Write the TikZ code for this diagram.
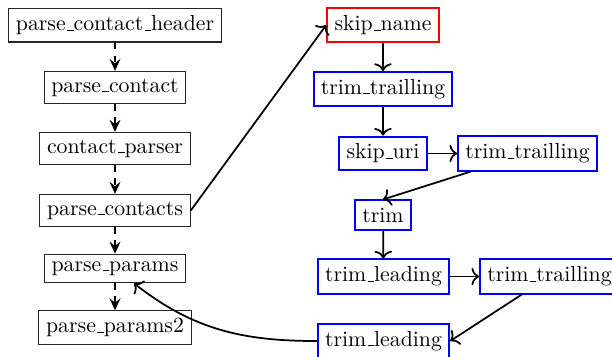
\documentclass[tikz,border=0pt]{standalone}
\usetikzlibrary{arrows.meta}
\newcommand\usc{\leavevmode\kern.06em\vbox{\hrule width.3em}}
\begin{document}
\begin{tikzpicture}[x=0.4587pt,y=-0.4587pt,
  lbox/.style={draw,rectangle,line width=0.5pt,draw=black!85},
  bbox/.style={draw=blue,rectangle,line width=0.9pt},
  rbox/.style={draw=red,rectangle,line width=0.9pt},
  dedge/.style={dashed,thick,-{Stealth[length=5.5pt,width=5pt,inset=2pt]}},
  sedge/.style={thick,-{To[length=3.5pt,width=8pt]}}]
\useasboundingbox (0,0) rectangle (612,356);
\node[lbox] (pch) at (115,25) {parse\usc contact\usc header};
\node[lbox] (pc) at (115,87.5) {parse\usc contact};
\node[lbox] (cp) at (115,148.5) {contact\usc parser};
\node[lbox] (pcs) at (115,210.5) {parse\usc contacts};
\node[lbox] (pp) at (115,268.5) {parse\usc params};
\node[lbox] (pp2) at (115,327.5) {parse\usc params2};
\node[rbox] (sn) at (383,25) {skip\usc name};
\node[bbox] (tt1) at (383,89) {trim\usc trailling};
\node[bbox] (su) at (383,153.5) {skip\usc uri};
\node[bbox] (tt2) at (527.5,153.5) {trim\usc trailling};
\node[bbox] (tr) at (383,215) {trim};
\node[bbox] (tl1) at (383.5,276.5) {trim\usc leading};
\node[bbox] (tt3) at (549.5,276.5) {trim\usc trailling};
\node[bbox] (tl2) at (383.5,341) {trim\usc leading};
\draw[dedge] (pch) -- (pc);
\draw[dedge] (pc) -- (cp);
\draw[dedge] (cp) -- (pcs);
\draw[dedge] (pcs) -- (pp);
\draw[dedge] (pp) -- (pp2);
\draw[sedge] (pcs.east) -- (sn.west);
\draw[sedge] (sn) -- (tt1);
\draw[sedge] (tt1) -- (su);
\draw[sedge] (su) -- (tt2);
\draw[sedge] (tt2) -- (tr.north);
\draw[sedge] (tr) -- (tl1);
\draw[sedge] (tl1) -- (tt3);
\draw[sedge] (tt3) -- (tl2.east);
\draw[sedge] (tl2.west) to[out=180,in=-38] (pp);
\end{tikzpicture}
\end{document}
